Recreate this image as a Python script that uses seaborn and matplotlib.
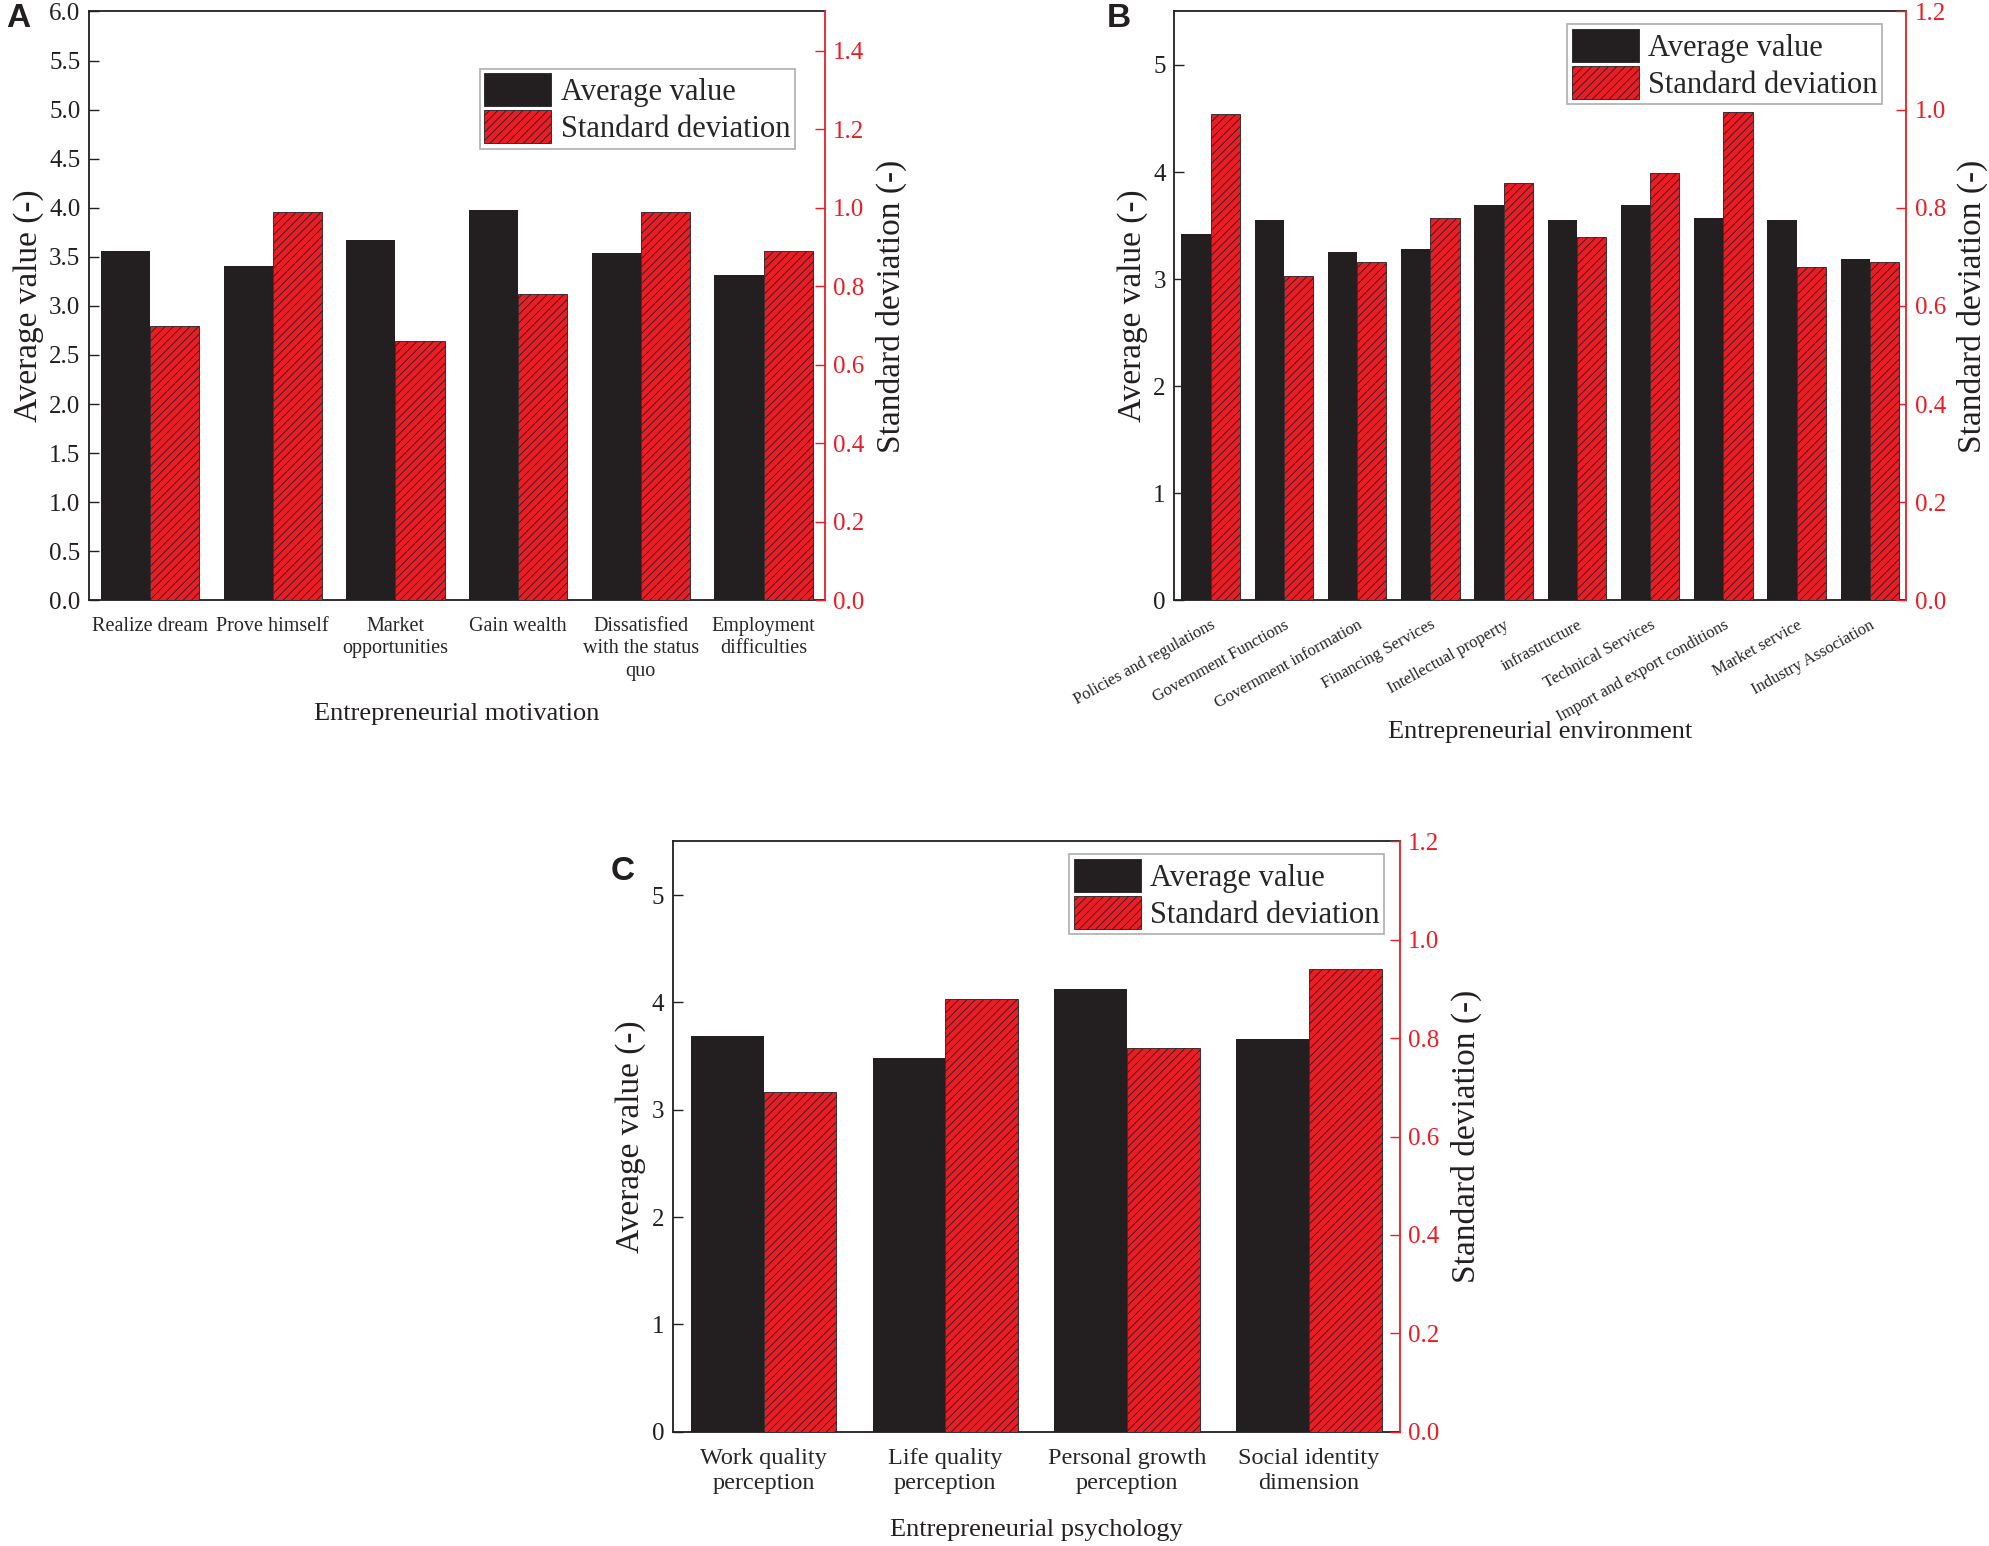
import matplotlib
matplotlib.use("Agg")
import pandas as pd
import matplotlib.pyplot as plt
import seaborn as sns
from matplotlib.colors import to_rgba
from matplotlib.patches import Patch

# --- style ---
sns.set_theme(style="white")
plt.rcParams['font.family'] = ['Liberation Serif', 'DejaVu Serif']
plt.rcParams['hatch.linewidth'] = 0.6

BLACK = '#231f20'
RED = '#ed1c24'
LEVELS = ['Average value', 'Standard deviation']

# --- data ---
motivation = ['Realize dream', 'Prove himself', 'Market opportunities', 'Gain wealth',
              'Dissatisfied with the status quo', 'Employment difficulties']
motivation_ticks = ['Realize dream', 'Prove himself', 'Market\nopportunities', 'Gain wealth',
                    'Dissatisfied\nwith the status\nquo', 'Employment\ndifficulties']
motivation_avg = [3.56, 3.41, 3.67, 3.98, 3.54, 3.31]
motivation_sd = [0.70, 0.99, 0.66, 0.78, 0.99, 0.89]

environment = ['Policies and regulations', 'Government Functions', 'Government information',
               'Financing Services', 'Intellectual property', 'infrastructure',
               'Technical Services', 'Import and export conditions', 'Market service',
               'Industry Association']
environment_avg = [3.42, 3.55, 3.25, 3.28, 3.69, 3.55, 3.69, 3.57, 3.55, 3.19]
environment_sd = [0.99, 0.66, 0.69, 0.78, 0.85, 0.74, 0.87, 0.995, 0.68, 0.69]

psychology = ['Work quality perception', 'Life quality perception',
              'Personal growth perception', 'Social identity dimension']
psychology_ticks = ['Work quality\nperception', 'Life quality\nperception',
                    'Personal growth\nperception', 'Social identity\ndimension']
psychology_avg = [3.69, 3.48, 4.13, 3.66]
psychology_sd = [0.69, 0.88, 0.78, 0.94]


def draw_panel(fig, rect, cats, ticks, avg, sd, xlabel, ylim, yticks, yfmt,
               ylim2, yticks2, legend_anchor, tick_kw, xlabelpad):
    n = len(cats)
    df = pd.DataFrame({'category': cats * 2,
                       'series': [LEVELS[0]] * n + [LEVELS[1]] * n,
                       'value': avg + sd})
    pal = {LEVELS[0]: BLACK, LEVELS[1]: RED}

    ax = fig.add_axes(rect)
    ax2 = ax.twinx()
    # both series dodged side by side; each axis keeps only its own series
    for a, keep in [(ax, BLACK), (ax2, RED)]:
        sns.barplot(data=df, x='category', y='value', hue='series', hue_order=LEVELS,
                    order=cats, palette=pal, saturation=1, width=0.8,
                    errorbar=None, legend=False, ax=a)
        for p in list(a.patches):
            if to_rgba(p.get_facecolor()) != to_rgba(keep):
                p.remove()

    for p in ax.patches:
        p.set_linewidth(0)
    for p in ax2.patches:
        p.set_hatch('////')
        p.set_edgecolor(BLACK)
        p.set_linewidth(0.6)

    ax.set_xlim(-0.5, n - 0.5)
    ax.set_ylim(*ylim)
    ax.set_yticks(yticks)
    ax.set_yticklabels([yfmt.format(v) for v in yticks])
    ax2.set_ylim(*ylim2)
    ax2.set_yticks(yticks2)
    ax2.set_yticklabels(['{:.1f}'.format(v) for v in yticks2])

    ax.set_xticks(range(n))
    ax.set_xticklabels(ticks, **tick_kw)
    ax.tick_params(axis='x', bottom=False, pad=6)
    ax.tick_params(axis='y', left=True, direction='in', length=7, width=1,
                   labelsize=18, color=BLACK, labelcolor=BLACK, pad=6)
    ax2.tick_params(axis='y', right=True, direction='in', length=7, width=1,
                    labelsize=18, color=RED, labelcolor=RED, pad=6)

    for s in ['left', 'top', 'bottom']:
        ax.spines[s].set_color(BLACK)
        ax.spines[s].set_linewidth(1.3)
        ax2.spines[s].set_visible(False)
    ax.spines['right'].set_visible(False)
    ax2.spines['right'].set_color(RED)
    ax2.spines['right'].set_linewidth(1.3)

    ax.set_xlabel(xlabel, fontsize=19, labelpad=xlabelpad, color=BLACK)
    ax.set_ylabel('Average value (-)', fontsize=24, color=BLACK, labelpad=4)
    ax2.set_ylabel('Standard deviation (-)', fontsize=24, color=BLACK, labelpad=8)

    handles = [Patch(facecolor=BLACK, edgecolor=BLACK, linewidth=0.6),
               Patch(facecolor=RED, edgecolor=BLACK, hatch='////', linewidth=0.6)]
    leg = ax2.legend(handles, LEVELS, loc='upper right', bbox_to_anchor=legend_anchor,
                     fontsize=22, frameon=True, fancybox=False, edgecolor='#9a9a9a',
                     handlelength=2.2, handleheight=1.3, borderpad=0.15,
                     labelspacing=0.1, handletextpad=0.3, borderaxespad=0)
    leg.get_frame().set_linewidth(1.2)
    return ax, ax2


fig = plt.figure(figsize=(19.9, 15.46), dpi=100)

draw_panel(fig, [0.0446, 0.6117, 0.3699, 0.3809], motivation, motivation_ticks,
           motivation_avg, motivation_sd, 'Entrepreneurial motivation',
           (0, 6), [i * 0.5 for i in range(13)], '{:.1f}',
           (0, 1.5), [i * 0.2 for i in range(8)], (0.959, 0.903),
           dict(fontsize=14.5, linespacing=1.25), 16)

draw_panel(fig, [0.590, 0.6117, 0.368, 0.3809], environment, environment,
           environment_avg, environment_sd, 'Entrepreneurial environment',
           (0, 5.5), [0, 1, 2, 3, 4, 5], '{:d}',
           (0, 1.2), [i * 0.2 for i in range(7)], (0.967, 0.978),
           dict(fontsize=12, rotation=29, ha='right', rotation_mode='anchor'), -3)

draw_panel(fig, [0.338, 0.0739, 0.3654, 0.3818], psychology, psychology_ticks,
           psychology_avg, psychology_sd, 'Entrepreneurial psychology',
           (0, 5.5), [0, 1, 2, 3, 4, 5], '{:d}',
           (0, 1.2), [i * 0.2 for i in range(7)], (0.979, 0.978),
           dict(fontsize=17.5, linespacing=1.25), 18)

for letter, x, y in [('A', 0.003, 0.988), ('B', 0.556, 0.988), ('C', 0.307, 0.436)]:
    fig.text(x, y, letter, fontsize=24, fontweight='bold', family='Liberation Sans',
             va='center', ha='left', color=BLACK)

fig.savefig('out.png', dpi=100)
